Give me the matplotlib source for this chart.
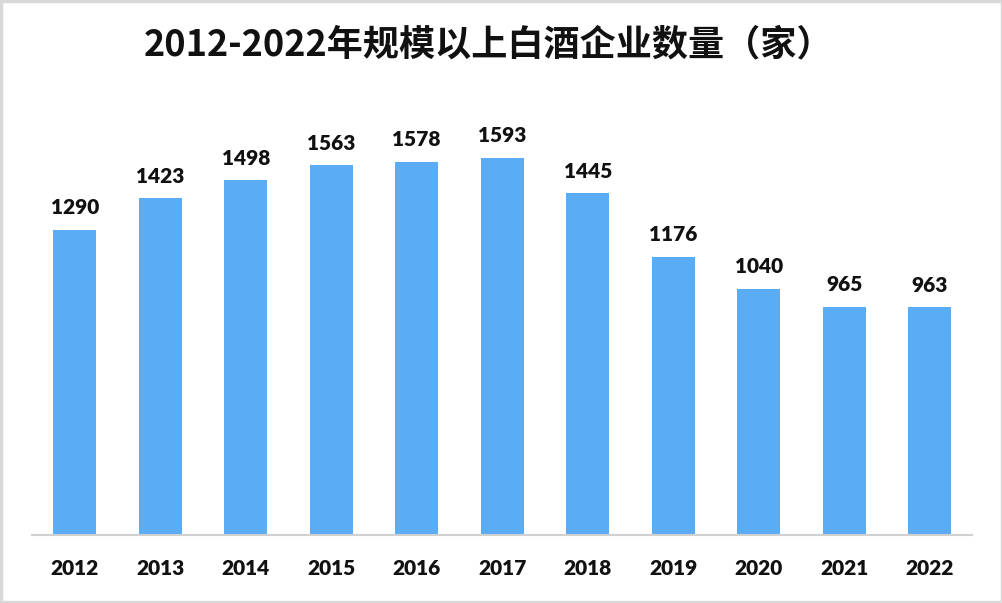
import matplotlib
matplotlib.use("Agg")
import matplotlib.pyplot as plt
from matplotlib.patches import Rectangle

plt.rcParams['font.family'] = ['Noto Sans CJK SC', 'DejaVu Sans']

years = ['2012', '2013', '2014', '2015', '2016', '2017', '2018', '2019', '2020', '2021', '2022']
counts = [1290, 1423, 1498, 1563, 1578, 1593, 1445, 1176, 1040, 965, 963]
title = '2012-2022年规模以上白酒企业数量（家）'

W, H = 1003, 603
fig = plt.figure(figsize=(W / 100, H / 100), dpi=100)
fig.patch.set_facecolor('white')

left, right, bottom, top = 32, 972.5, 535, 109
ax = fig.add_axes([left / W, 1 - bottom / H, (right - left) / W, (bottom - top) / H])
x = list(range(len(years)))
ax.bar(x, counts, width=0.5, color='#5aacf4', zorder=2)
ax.set_xlim(-0.5, len(years) - 0.5)
ax.set_ylim(0, 1800)
num_font = ['Lato', 'DejaVu Sans']
for xi, v in zip(x, counts):
    ax.annotate(f'{v}', (xi, v), xytext=(0, 9), textcoords='offset points',
                ha='center', va='bottom', fontsize=15, fontweight='heavy',
                color='#111111', family=num_font)
ax.set_xticks(x)
ax.set_xticklabels(years, fontsize=15, fontweight='heavy', color='#111111', family=num_font)
ax.tick_params(axis='x', length=0, pad=17)
ax.set_yticks([])
for s in ['top', 'right', 'left']:
    ax.spines[s].set_visible(False)
ax.spines['bottom'].set_color('#d0d0d0')
ax.spines['bottom'].set_linewidth(1.5)
ax.set_facecolor('none')

fig.text(489 / W, 1 - 45 / H, title, ha='center', va='center', fontsize=26,
         fontweight='bold', color='#111111')

fig.patches.append(Rectangle((0.001, 0.001), 0.998, 0.997, transform=fig.transFigure,
                             fill=False, edgecolor='#d9d9d9', linewidth=2.5))

fig.savefig('out.png', dpi=100)
